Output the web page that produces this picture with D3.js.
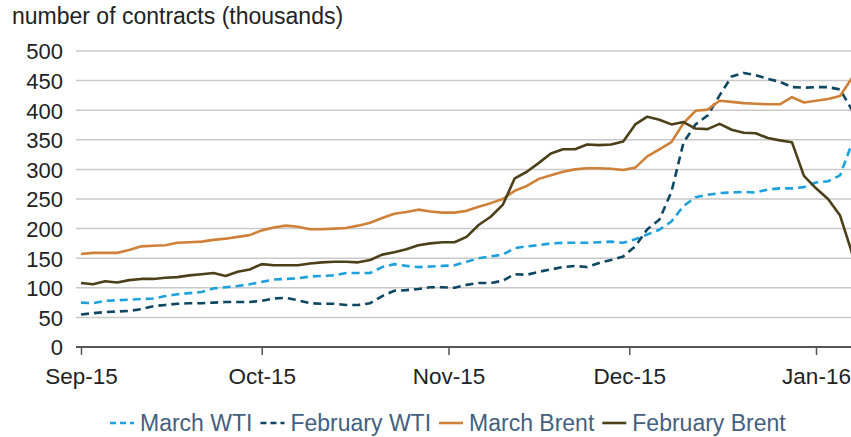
<!DOCTYPE html>
<html>
<head>
<meta charset="utf-8">
<script src="https://cdn.jsdelivr.net/npm/d3@7"></script>
<style>
  body { margin: 0; background: #fff; }
  svg { display: block; font-family: "Liberation Sans", Arial, sans-serif; }
</style>
</head>
<body>
<svg id="chart" width="851" height="437"></svg>
<script>
// dates every two days, Sep 1 2015 .. Jan 7 2016
const dates = [
  "2015-09-01","2015-09-03","2015-09-05","2015-09-07","2015-09-09","2015-09-11","2015-09-13","2015-09-15",
  "2015-09-17","2015-09-19","2015-09-21","2015-09-23","2015-09-25","2015-09-27","2015-09-29","2015-10-01",
  "2015-10-03","2015-10-05","2015-10-07","2015-10-09","2015-10-11","2015-10-13","2015-10-15","2015-10-17",
  "2015-10-19","2015-10-21","2015-10-23","2015-10-25","2015-10-27","2015-10-29","2015-10-31","2015-11-02",
  "2015-11-04","2015-11-06","2015-11-08","2015-11-10","2015-11-12","2015-11-14","2015-11-16","2015-11-18",
  "2015-11-20","2015-11-22","2015-11-24","2015-11-26","2015-11-28","2015-11-30","2015-12-02","2015-12-04",
  "2015-12-06","2015-12-08","2015-12-10","2015-12-12","2015-12-14","2015-12-16","2015-12-18","2015-12-20",
  "2015-12-22","2015-12-24","2015-12-26","2015-12-28","2015-12-30","2016-01-01","2016-01-03","2016-01-05",
  "2016-01-07"
];

const marchWTI = [
  75, 74, 78, 79, 80, 81, 82, 86, 89, 91, 93, 99, 101, 103, 106, 110,
  114, 115, 116, 119, 120, 121, 125, 125, 125, 135, 140, 137, 135, 136, 137, 138,
  144, 150, 153, 156, 167, 170, 172, 175, 176, 176, 176, 177, 178, 176, 182, 190,
  198, 212, 238, 253, 257, 260, 261, 262, 261, 266, 268, 268, 270, 278, 280, 290,
  345
];

const februaryWTI = [
  55, 57, 59, 60, 61, 64, 69, 71, 73, 74, 74, 75, 76, 76, 76, 78,
  82, 83, 79, 74, 73, 73, 71, 71, 74, 86, 95, 96, 98, 101, 101, 100,
  105, 108, 108, 112, 123, 122, 127, 131, 135, 137, 135, 142, 147, 153, 170, 199,
  215, 262, 345, 376, 391, 425, 457, 463, 459, 453, 448, 439, 438, 439, 439, 435,
  400
];

const marchBrent = [
  157, 159, 159, 159, 164, 170, 171, 172, 176, 177, 178, 181, 183, 186, 189, 197,
  202, 205, 203, 199, 199, 200, 201, 205, 210, 218, 225, 228, 232, 229, 227, 227,
  230, 237, 243, 250, 264, 272, 284, 290, 296, 300, 302, 302, 301, 299, 303, 322,
  334, 346, 378, 399, 401, 416, 414, 412, 411, 410, 410, 422, 413, 416, 419, 424,
  455
];

const februaryBrent = [
  108, 106, 111, 109, 113, 115, 115, 117, 118, 121, 123, 125, 120, 127, 131, 140,
  138, 138, 138, 141, 143, 144, 144, 143, 147, 156, 160, 165, 172, 175, 177, 177,
  186, 206, 220, 240, 285, 296, 311, 327, 334, 334, 342, 341, 342, 347, 376, 389,
  384, 376, 380, 369, 368, 377, 367, 362, 361, 353, 349, 346, 289, 268, 250, 222,
  158
];

const yTicks = [0, 50, 100, 150, 200, 250, 300, 350, 400, 450, 500];
const xTicks = ["2015-09-01", "2015-10-01", "2015-11-01", "2015-12-01", "2016-01-01"];

const series = [
  { name: "March WTI", values: marchWTI, color: "#1ea0dc", dash: "8,5" },
  { name: "February WTI", values: februaryWTI, color: "#0e4762", dash: "8,5" },
  { name: "March Brent", values: marchBrent, color: "#cf8039", dash: null },
  { name: "February Brent", values: februaryBrent, color: "#4b4019", dash: null }
];

const parse = d3.timeParse("%Y-%m-%d");
const plot = { left: 76, right: 851, top: 40, bottom: 347 };

const x = d3.scaleTime()
  .domain([parse("2015-09-01"), parse("2016-01-01")])
  .range([81, 816]);
const y = d3.scaleLinear().domain([0, 500]).range([347, 51]);

const svg = d3.select("#chart");

svg.append("defs").append("clipPath").attr("id", "plot-clip")
  .append("rect")
  .attr("x", plot.left).attr("y", 0)
  .attr("width", plot.right - plot.left).attr("height", plot.bottom);

// title
svg.append("text")
  .attr("x", 12).attr("y", 24)
  .attr("font-size", 23).attr("fill", "#222")
  .text("number of contracts (thousands)");

// gridlines
svg.append("g")
  .selectAll("line")
  .data(yTicks.filter((d) => d > 0))
  .join("line")
  .attr("x1", plot.left).attr("x2", plot.right)
  .attr("y1", (d) => y(d)).attr("y2", (d) => y(d))
  .attr("stroke", "#c9c9c9").attr("stroke-width", 1.5);

// y axis labels
const yAxis = d3.axisLeft(y).tickValues(yTicks).tickSize(0).tickPadding(0);
const yg = svg.append("g").attr("transform", `translate(63,0)`).call(yAxis);
yg.select(".domain").remove();
yg.selectAll("text")
  .attr("font-size", 22).attr("font-family", "Liberation Sans, Arial, sans-serif")
  .attr("fill", "#222").attr("dy", "0.36em");

// x axis
const xAxis = d3.axisBottom(x)
  .tickValues(xTicks.map(parse))
  .tickFormat(d3.timeFormat("%b-%y"))
  .tickSize(8).tickPadding(13);
const xg = svg.append("g").attr("transform", `translate(0,${plot.bottom})`).call(xAxis);
xg.select(".domain").remove();
xg.selectAll(".tick line").attr("stroke", "#555").attr("stroke-width", 1.5);
xg.selectAll("text")
  .attr("font-size", 22.5).attr("font-family", "Liberation Sans, Arial, sans-serif")
  .attr("fill", "#222");

svg.append("line")
  .attr("x1", plot.left).attr("x2", plot.right)
  .attr("y1", plot.bottom).attr("y2", plot.bottom)
  .attr("stroke", "#555").attr("stroke-width", 2);

// lines
const line = d3.line()
  .x((d, i) => x(parse(dates[i])))
  .y((d) => y(d));

const lines = svg.append("g").attr("clip-path", "url(#plot-clip)");
series.forEach((s) => {
  lines.append("path")
    .datum(s.values)
    .attr("fill", "none")
    .attr("stroke", s.color)
    .attr("stroke-width", 2.6)
    .attr("stroke-linejoin", "round")
    .attr("stroke-dasharray", s.dash)
    .attr("d", line);
});

// legend
const legend = svg.append("g").attr("transform", "translate(0,423)");
let lx = 110;
series.forEach((s) => {
  legend.append("line")
    .attr("x1", lx).attr("x2", lx + 24)
    .attr("stroke", s.color).attr("stroke-width", 2.6)
    .attr("stroke-dasharray", s.dash ? "6,4" : null);
  const t = legend.append("text")
    .attr("x", lx + 30).attr("y", 8)
    .attr("font-size", 23).attr("fill", "#44607f")
    .text(s.name);
  lx += 30 + t.node().getComputedTextLength() + 8;
});
</script>
</body>
</html>
